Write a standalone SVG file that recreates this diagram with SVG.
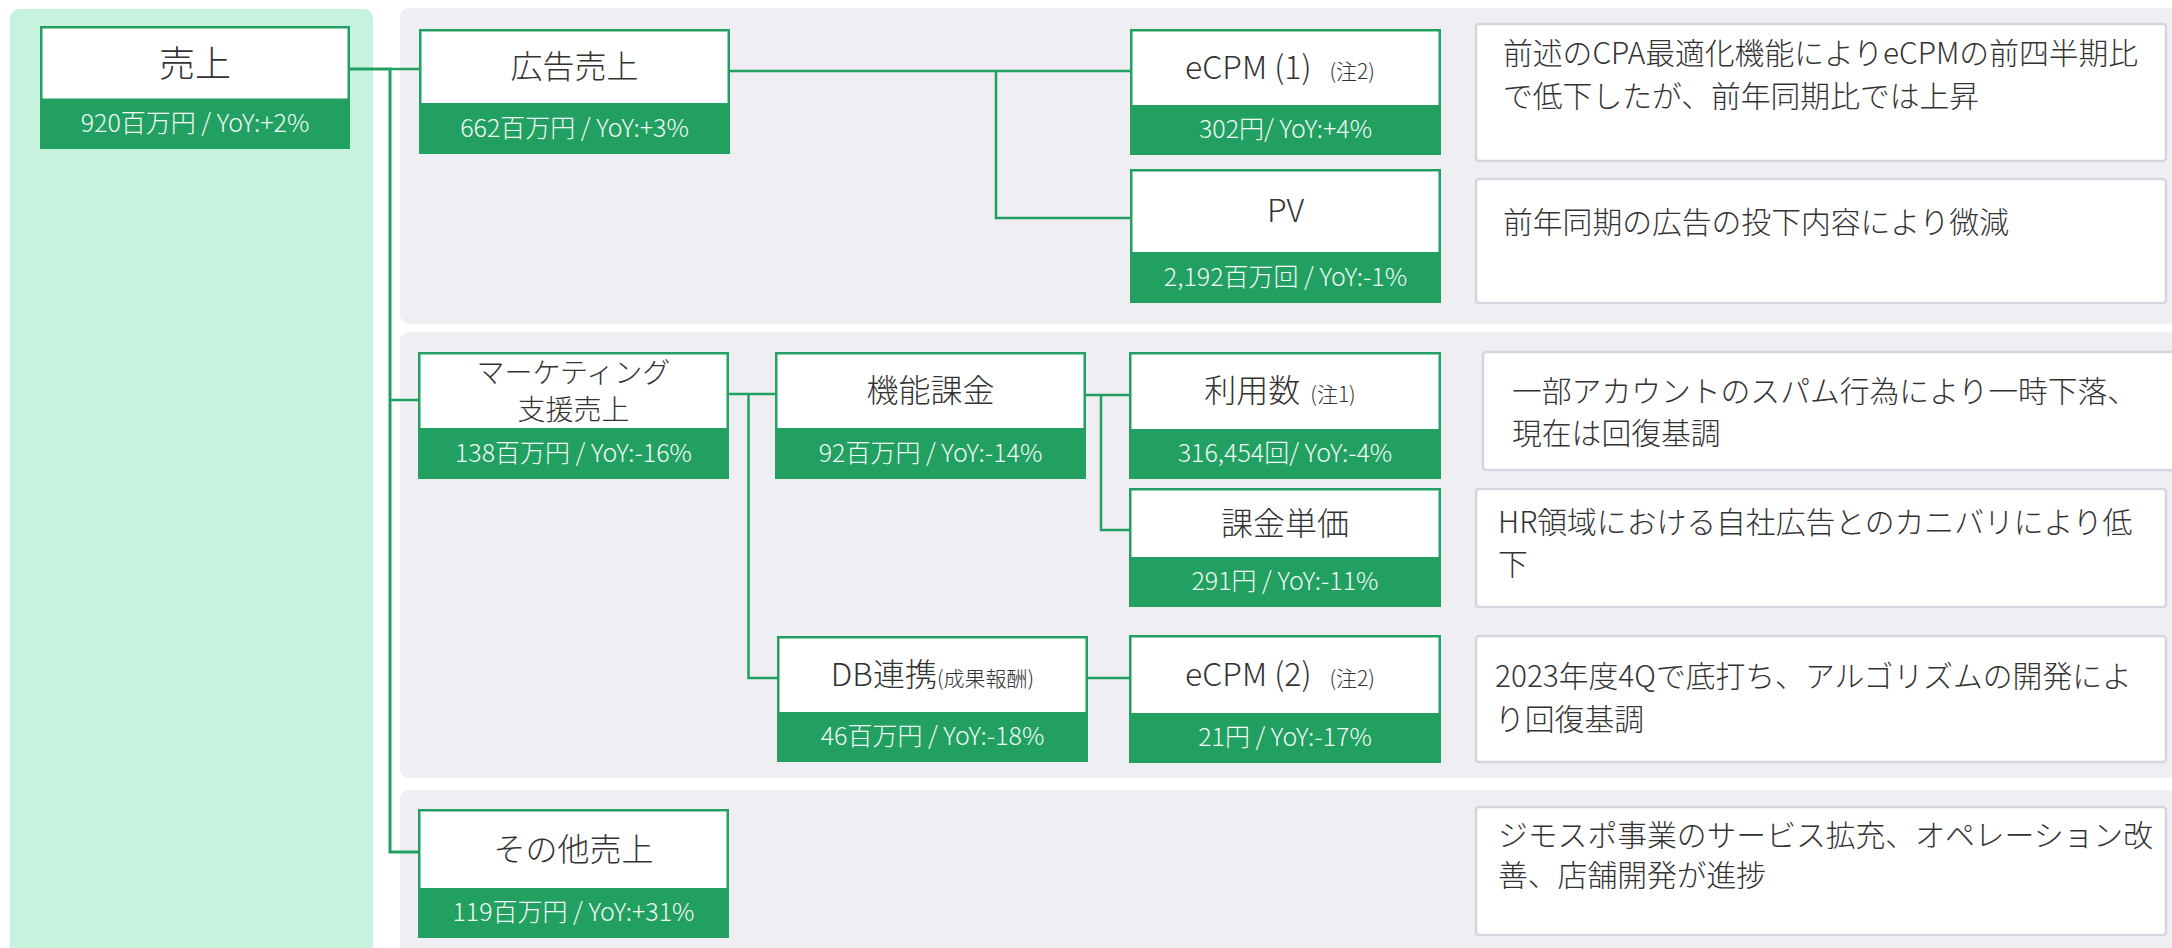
<svg xmlns="http://www.w3.org/2000/svg" width="2172" height="948" viewBox="0 0 2172 948">
<style>
text{font-family:"Noto Sans CJK JP","Noto Sans CJK SC",sans-serif;font-weight:300;}
.band{fill:#22a062;}
.face{fill:#ffffff;}
.ttl{fill:#333333;font-size:32px;text-anchor:middle;}
.sm{font-size:21px;}
.val{fill:#f2fbf6;font-size:25px;text-anchor:middle;}
.cbox{fill:#ffffff;stroke:#d5d5de;stroke-width:2.5;}
.ctx{fill:#333333;font-size:29.8px;}
.conn{fill:none;stroke:#22a062;stroke-width:2.5;}
</style>
<rect x="0" y="0" width="2172" height="948" fill="#ffffff"/>
<g id="panels">
<rect x="10" y="9" width="363" height="960" rx="9" fill="#c7f2de"/>
<rect x="400" y="8" width="1790" height="316" rx="9" fill="#eeeef3"/>
<rect x="400" y="332" width="1790" height="446" rx="9" fill="#eeeef3"/>
<rect x="400" y="790" width="1790" height="180" rx="9" fill="#eeeef3"/>
</g>
<g id="connectors">
<path class="conn" d="M350,69 H390 V852 H418" style="stroke-width:3"/>
<path class="conn" d="M390,69 H419"/>
<path class="conn" d="M390,400 H418"/>
<path class="conn" d="M730,71 H1130 M996,71 V218 H1130"/>
<path class="conn" d="M729,394 H775 M748.5,394 V678 H777"/>
<path class="conn" d="M1086,395 H1129 M1101,395 V530 H1129"/>
<path class="conn" d="M1088,678 H1129"/>
</g>
<g id="n-uriage">
<rect class="band" x="40" y="26" width="310" height="123"/>
<rect class="face" x="42.5" y="28.5" width="305" height="70"/>
<text class="ttl" x="195" y="77" style="font-size:36px">売上</text>
<text class="val" x="195" y="132">920百万円 / YoY:+2%</text>
</g>
<g id="n-koukoku">
<rect class="band" x="419" y="29" width="311" height="125"/>
<rect class="face" x="421.5" y="31.5" width="306" height="71.5"/>
<text class="ttl" x="574.5" y="78">広告売上</text>
<text class="val" x="574.5" y="137">662百万円 / YoY:+3%</text>
</g>
<g id="n-ecpm1">
<rect class="band" x="1130" y="29" width="311" height="126"/>
<rect class="face" x="1132.5" y="31.5" width="306" height="73.5"/>
<text class="ttl" x="1280" y="79">eCPM (1)<tspan class="sm" dx="18">(注2)</tspan></text>
<text class="val" x="1285.5" y="138">302円/ YoY:+4%</text>
</g>
<g id="n-pv">
<rect class="band" x="1130" y="169" width="311" height="134"/>
<rect class="face" x="1132.5" y="171.5" width="306" height="80.5"/>
<text class="ttl" x="1285.5" y="222">PV</text>
<text class="val" x="1285.5" y="286">2,192百万回 / YoY:-1%</text>
</g>
<g id="n-marketing">
<rect class="band" x="418" y="352" width="311" height="127"/>
<rect class="face" x="420.5" y="354.5" width="306" height="73.5"/>
<text class="ttl" x="573.5" y="383" style="font-size:28px">マーケティング</text>
<text class="ttl" x="573.5" y="420" style="font-size:28px">支援売上</text>
<text class="val" x="573.5" y="462">138百万円 / YoY:-16%</text>
</g>
<g id="n-kinou">
<rect class="band" x="775" y="352" width="311" height="127"/>
<rect class="face" x="777.5" y="354.5" width="306" height="73.5"/>
<text class="ttl" x="930.5" y="402">機能課金</text>
<text class="val" x="930.5" y="462">92百万円 / YoY:-14%</text>
</g>
<g id="n-riyou">
<rect class="band" x="1129" y="352" width="312" height="127"/>
<rect class="face" x="1131.5" y="354.5" width="307" height="74.5"/>
<text class="ttl" x="1280" y="402">利用数<tspan class="sm" dx="10">(注1)</tspan></text>
<text class="val" x="1285" y="462">316,454回/ YoY:-4%</text>
</g>
<g id="n-tanka">
<rect class="band" x="1129" y="488" width="312" height="119"/>
<rect class="face" x="1131.5" y="490.5" width="307" height="66.5"/>
<text class="ttl" x="1285" y="535">課金単価</text>
<text class="val" x="1285" y="590">291円 / YoY:-11%</text>
</g>
<g id="n-db">
<rect class="band" x="777" y="636" width="311" height="126"/>
<rect class="face" x="779.5" y="638.5" width="306" height="73.5"/>
<text class="ttl" x="932.5" y="686">DB連携<tspan class="sm">(成果報酬)</tspan></text>
<text class="val" x="932.5" y="745">46百万円 / YoY:-18%</text>
</g>
<g id="n-ecpm2">
<rect class="band" x="1129" y="635" width="312" height="128"/>
<rect class="face" x="1131.5" y="637.5" width="307" height="75.5"/>
<text class="ttl" x="1280" y="686">eCPM (2)<tspan class="sm" dx="18">(注2)</tspan></text>
<text class="val" x="1285" y="746">21円 / YoY:-17%</text>
</g>
<g id="n-sonota">
<rect class="band" x="418" y="809" width="311" height="129"/>
<rect class="face" x="420.5" y="811.5" width="306" height="76.5"/>
<text class="ttl" x="573.5" y="861">その他売上</text>
<text class="val" x="573.5" y="921">119百万円 / YoY:+31%</text>
</g>
<g id="c1">
<rect class="cbox" x="1476" y="24" width="690" height="137" rx="3"/>
<text class="ctx" x="1503" y="64">前述のCPA最適化機能によりeCPMの前四半期比</text>
<text class="ctx" x="1503" y="107">で低下したが、前年同期比では上昇</text>
</g>
<g id="c2">
<rect class="cbox" x="1476" y="179" width="690" height="124" rx="3"/>
<text class="ctx" x="1503" y="233">前年同期の広告の投下内容により微減</text>
</g>
<g id="c3">
<rect class="cbox" x="1483" y="352" width="710" height="118" rx="3"/>
<text class="ctx" x="1512" y="402">一部アカウントのスパム行為により一時下落、</text>
<text class="ctx" x="1512" y="444">現在は回復基調</text>
</g>
<g id="c4">
<rect class="cbox" x="1476" y="489" width="690" height="118" rx="3"/>
<text class="ctx" x="1498" y="533">HR領域における自社広告とのカニバリにより低</text>
<text class="ctx" x="1498" y="575">下</text>
</g>
<g id="c5">
<rect class="cbox" x="1476" y="636" width="690" height="126" rx="3"/>
<text class="ctx" x="1495" y="687">2023年度4Qで底打ち、アルゴリズムの開発によ</text>
<text class="ctx" x="1495" y="730">り回復基調</text>
</g>
<g id="c6">
<rect class="cbox" x="1476" y="807" width="690" height="128" rx="3"/>
<text class="ctx" x="1498" y="846">ジモスポ事業のサービス拡充、オペレーション改</text>
<text class="ctx" x="1498" y="886">善、店舗開発が進捗</text>
</g>
</svg>
